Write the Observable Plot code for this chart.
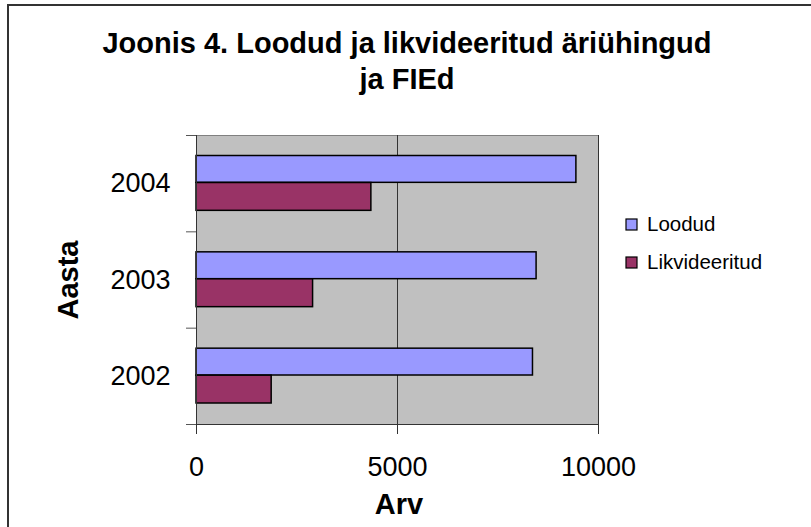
<!DOCTYPE html>
<html>
<head>
<meta charset="utf-8">
<script src="https://cdn.jsdelivr.net/npm/d3@7"></script>
<script src="https://cdn.jsdelivr.net/npm/@observablehq/plot@0.6"></script>
<style>
  body { margin: 0; background: #fff; }
  #wrap { position: relative; width: 811px; height: 527px; overflow: hidden; background: #fff;
          font-family: "Liberation Sans", Arial, sans-serif; color: #000; }
  #border { position: absolute; left: 7px; top: 4px; width: 900px; height: 700px;
            border-left: 2px solid #333; border-top: 2px solid #333; }
  #title { position: absolute; left: 0; top: 25px; width: 814px; text-align: center;
           font-size: 29px; font-weight: bold; line-height: 36px; }
  #ytitle { position: absolute; left: 68px; top: 280px; font-size: 29px; font-weight: bold;
            transform: translate(-50%, -50%) rotate(-90deg); white-space: nowrap; }
  #xtitle { position: absolute; left: 399px; top: 504px; font-size: 29px; font-weight: bold;
            transform: translate(-50%, -50%); white-space: nowrap; }
  #chart { position: absolute; left: 0; top: 0; }
  #legend { position: absolute; left: 626px; top: 212px; }
  .lg-swatch { margin-bottom: 13px !important; }
  .lg-swatch svg { margin-right: 10px !important; overflow: visible; }
  .lg-swatch svg rect { stroke: #000; stroke-width: 1.2px; }
</style>
</head>
<body>
<div id="wrap">
  <div id="border"></div>
  <div id="chart"></div>
  <div id="title">Joonis 4. Loodud ja likvideeritud äriühingud<br>ja FIEd</div>
  <div id="ytitle">Aasta</div>
  <div id="xtitle">Arv</div>
  <div id="legend"></div>
</div>
<script>
// ---- data ----
const years = [2004, 2003, 2002];
const loodud = [9450, 8460, 8370];
const likvideeritud = [4350, 2900, 1870];
const seriesNames = ["Loodud", "Likvideeritud"];
const seriesColors = ["#9999FF", "#993366"];
const xTicks = [0, 5000, 10000];
const yBounds = [2002, 2003, 2004, 2005];

const rowsLoodud = years.map((y, i) => ({year: y, value: loodud[i], series: seriesNames[0]}));
const rowsLikv = years.map((y, i) => ({year: y, value: likvideeritud[i], series: seriesNames[1]}));

const font = "'Liberation Sans', Arial, sans-serif";

const chart = Plot.plot({
  width: 811,
  height: 527,
  marginLeft: 196,
  marginRight: 213,
  marginTop: 135,
  marginBottom: 103,
  style: {fontFamily: font, background: "transparent", overflow: "visible", color: "#000"},
  x: {domain: [0, 10000], label: null},
  y: {domain: [2002, 2005], axis: null, label: null},
  color: {domain: seriesNames, range: seriesColors},
  marks: [
    Plot.frame({fill: "#C0C0C0", stroke: "#808080"}),
    Plot.gridX(xTicks, {stroke: "#333", strokeOpacity: 1}),
    Plot.rectX(rowsLoodud, {y: "year", interval: 1, x1: 0, x2: "value", fill: "series",
      stroke: "#000", strokeWidth: 1.5, insetTop: 20.5, insetBottom: 49}),
    Plot.rectX(rowsLikv, {y: "year", interval: 1, x1: 0, x2: "value", fill: "series",
      stroke: "#000", strokeWidth: 1.5, insetTop: 47.5, insetBottom: 21}),
    Plot.ruleX([0], {stroke: "#333"}),
    Plot.ruleY([2002], {stroke: "#333"}),
    Plot.axisY(yBounds, {tickSize: 10, tickFormat: () => "", label: null, stroke: "#555"}),
    Plot.axisX(xTicks, {tickSize: 10, tickPadding: 22, fontSize: 27, label: null, stroke: "#333",
      tickFormat: d => String(d), style: {letterSpacing: "1.5px"}}),
    Plot.text(years, {frameAnchor: "left", y: d => d + 0.5, text: d => String(d),
      textAnchor: "end", dx: -26, fontSize: 27, style: {letterSpacing: "1.5px"}})
  ]
});
document.getElementById("chart").appendChild(chart);

const leg = chart.legend("color", {swatchSize: 11, columns: 1, className: "lg",
  style: {fontSize: "20.5px", fontFamily: font, color: "#000"}});
document.getElementById("legend").appendChild(leg);
</script>
</body>
</html>
